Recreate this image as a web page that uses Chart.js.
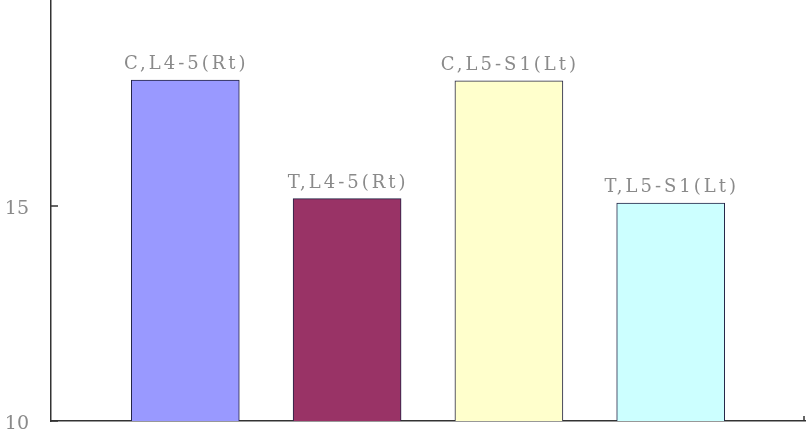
<!DOCTYPE html>
<html>
<head>
<meta charset="utf-8">
<script src="https://cdn.jsdelivr.net/npm/chart.js@4.4.0/dist/chart.umd.min.js"></script>
<style>
  html, body { margin: 0; padding: 0; background: #fff; overflow: hidden; }
  #wrap { position: absolute; left: 0; top: -30px; width: 806px; height: 465px; }
</style>
</head>
<body>
<div id="wrap"><canvas id="chart"></canvas></div>
<script>
// データ
const categories = ["C,L4-5(Rt)", "T,L4-5(Rt)", "C,L5-S1(Lt)", "T,L5-S1(Lt)"];
const values = [17.93, 15.17, 17.91, 15.07];
const barColors = ["#9999ff", "#993366", "#ffffcc", "#ccffff"];
const yTicks = [10, 15, 20];

const serif = "'DejaVu Serif', 'Liberation Serif', serif";

// バー上のラベル、Y軸ラベル、内向きの目盛り
const barLabels = {
    id: "barLabels",
    afterDatasetsDraw(chart) {
        const ctx = chart.ctx;
        const meta = chart.getDatasetMeta(0);
        const y = chart.scales.y;
        const x = chart.scales.x;
        const area = chart.chartArea;

        ctx.save();
        ctx.font = "18px " + serif;
        ctx.fillStyle = "#8a8a8a";
        ctx.textAlign = "center";
        ctx.textBaseline = "alphabetic";
        ctx.letterSpacing = "3px";
        meta.data.forEach((bar, i) => {
            ctx.fillText(categories[i], bar.x + 1, bar.y - 11);
        });
        ctx.restore();

        ctx.save();
        ctx.font = "19px " + serif;
        ctx.fillStyle = "#8a8a8a";
        ctx.textAlign = "right";
        ctx.textBaseline = "middle";
        yTicks.forEach((t) => {
            ctx.fillText(String(t), area.left - 22, y.getPixelForValue(t) + 3);
        });
        ctx.restore();

        ctx.save();
        ctx.strokeStyle = "#333";
        ctx.lineWidth = 1.5;
        yTicks.forEach((t) => {
            const py = y.getPixelForValue(t);
            ctx.beginPath();
            ctx.moveTo(area.left, py);
            ctx.lineTo(area.left + 7, py);
            ctx.stroke();
        });
        ctx.beginPath();
        ctx.moveTo(x.right - 1, area.bottom);
        ctx.lineTo(x.right - 1, area.bottom - 5);
        ctx.stroke();
        ctx.restore();
    }
};

new Chart(document.getElementById("chart"), {
    type: "bar",
    data: {
        datasets: [{
            data: values.map((v, i) => ({ x: i + 1, y: v })),
            backgroundColor: barColors,
            borderColor: "#222244",
            borderWidth: 1,
            borderSkipped: false,
            barThickness: 108
        }]
    },
    options: {
        responsive: true,
        maintainAspectRatio: false,
        animation: false,
        layout: { padding: { top: 21, bottom: 14, left: 0, right: 1 } },
        plugins: { legend: { display: false }, tooltip: { enabled: false } },
        scales: {
            x: {
                type: "linear",
                offset: false,
                min: 0.17,
                max: 4.83,
                grid: { display: false, drawTicks: false },
                ticks: { display: false },
                border: { display: true, color: "#333", width: 1.5 },
                afterFit(scale) { scale.height = 0; }
            },
            y: {
                min: 10,
                max: 20,
                afterBuildTicks(scale) { scale.ticks = yTicks.map((v) => ({ value: v })); },
                grid: { display: false, drawTicks: false },
                border: { display: true, color: "#333", width: 1.5 },
                ticks: { display: false },
                afterFit(scale) { scale.width = 51; }
            }
        }
    },
    plugins: [barLabels]
});
</script>
</body>
</html>
